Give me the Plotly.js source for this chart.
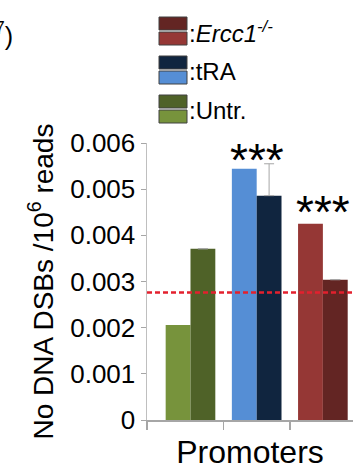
<!DOCTYPE html>
<html>
<head>
<meta charset="utf-8">
<script src="https://cdn.plot.ly/plotly-3.0.1.min.js"></script>
<style>html,body{margin:0;padding:0;background:#fff;}#chart{width:358px;height:472px;}</style>
</head>
<body>
<div id="chart"></div>
<script>
// ---- data ----
const groups = ["Untr.", "tRA", "Ercc1"];
const lightValues = [0.00206, 0.00544, 0.00425];
const darkValues = [0.00371, 0.00486, 0.00304];
const darkErrors = [null, 0.00069, null];
const lightColors = ["#77933C", "#558ED5", "#953735"];
const darkColors = ["#4F6228", "#10253F", "#632523"];
const threshold = [0.00276];
const yTickVals = [0, 0.001, 0.002, 0.003, 0.004, 0.005, 0.006];
const yTickText = ["0", "0.001", "0.002", "0.003", "0.004", "0.005", "0.006"];
const legendLabels = [":<i>Ercc1<sup>-/-</sup></i>", ":tRA", ":Untr."];
const legendOrder = [2, 1, 0];
const sigGroups = ["tRA", "Ercc1"];
const sigText = ["***", "***"];
const xTitle = "Promoters";
const yTitle = "No DNA DSBs /10<sup>6</sup> reads";

// ---- layout helpers ----
const W = 358, H = 472;
const M = {l: 147, r: 5, t: 143, b: 52};
const PW = W - M.l - M.r, PH = H - M.t - M.b;
const px2x = p => (p - M.l) / PW;
const px2y = p => (H - M.b - p) / PH;
const FONT = "Liberation Sans, Arial, Helvetica, sans-serif";

const traces = [
  {type: "bar", x: groups, y: lightValues, marker: {color: lightColors, line: {width: 0}}, hoverinfo: "none", showlegend: false},
  {type: "bar", x: groups, y: darkValues, marker: {color: darkColors, line: {width: 0}}, hoverinfo: "none", showlegend: false,
   error_y: {type: "data", array: darkErrors, arrayminus: [null, 0, null], symmetric: false, color: "#A6A6A6", thickness: 1, width: 5}}
];

const shapes = [
  {type: "line", xref: "paper", x0: 0, x1: 1, yref: "y", y0: threshold[0], y1: threshold[0],
   line: {color: "#E3202E", width: 2.5, dash: "5px,3px"}}
];
const annotations = [];

// legend (two stacked swatches per entry)
const legTops = [17, 56, 95];
legendOrder.forEach((gi, k) => {
  const top = legTops[k];
  shapes.push({type: "rect", xref: "paper", yref: "paper", x0: px2x(159), x1: px2x(187), y0: px2y(top), y1: px2y(top + 13),
    fillcolor: darkColors[gi], line: {color: "#404040", width: 1}});
  shapes.push({type: "rect", xref: "paper", yref: "paper", x0: px2x(159), x1: px2x(187), y0: px2y(top + 15), y1: px2y(top + 28),
    fillcolor: lightColors[gi], line: {color: "#404040", width: 1}});
  annotations.push({xref: "paper", yref: "paper", x: px2x(187), y: px2y(top + 15), xanchor: "left", yanchor: "middle",
    text: legendLabels[k], showarrow: false, font: {family: FONT, size: 24, color: "#000"}});
});

// significance markers
const sigShift = [-24, -16];
sigGroups.forEach((g, i) => {
  const gi = groups.indexOf(g);
  const top = Math.max(lightValues[gi], darkValues[gi] + (darkErrors[gi] || 0));
  annotations.push({xref: "x", yref: "y", x: g, y: top, xanchor: "center", yanchor: "bottom", yshift: sigShift[i],
    text: sigText[i], showarrow: false, font: {family: FONT, size: 46, color: "#000"}});
});

// cut-off fragment from neighbouring panel
annotations.push({xref: "paper", yref: "paper", x: px2x(15), y: px2y(34), xanchor: "right", yanchor: "middle",
  text: "<sup>7</sup>)", showarrow: false, font: {family: FONT, size: 25, color: "#000"}});

const layout = {
  width: W, height: H,
  margin: M,
  paper_bgcolor: "#fff", plot_bgcolor: "#fff",
  barmode: "group", bargap: 0.25, bargroupgap: 0,
  showlegend: false,
  font: {family: FONT, color: "#000"},
  xaxis: {
    type: "category", range: [-0.657, 2.455], fixedrange: true,
    showline: true, linecolor: "#A6A6A6", linewidth: 1.5,
    showgrid: false, zeroline: false,
    tickmode: "array", tickvals: [-0.657, 0.5, 1.5], ticktext: ["", "", ""],
    ticks: "outside", ticklen: 8, tickcolor: "#A6A6A6", tickwidth: 1.5,
    showticklabels: false,
    title: {text: xTitle, font: {family: FONT, size: 32, color: "#000"}, standoff: 12}
  },
  yaxis: {
    range: [0, 0.006], fixedrange: true,
    showline: true, linecolor: "#BFBFBF", linewidth: 1.5,
    showgrid: false, zeroline: false,
    tickmode: "array", tickvals: yTickVals, ticktext: yTickText,
    ticks: "outside", ticklen: 5, tickcolor: "#A6A6A6", tickwidth: 1,
    tickfont: {family: FONT, size: 26, color: "#000"},
    title: {text: yTitle, font: {family: FONT, size: 28, color: "#000"}, standoff: 8}
  },
  shapes: shapes,
  annotations: annotations
};

Plotly.newPlot("chart", traces, layout, {staticPlot: true, displayModeBar: false});
</script>
</body>
</html>
